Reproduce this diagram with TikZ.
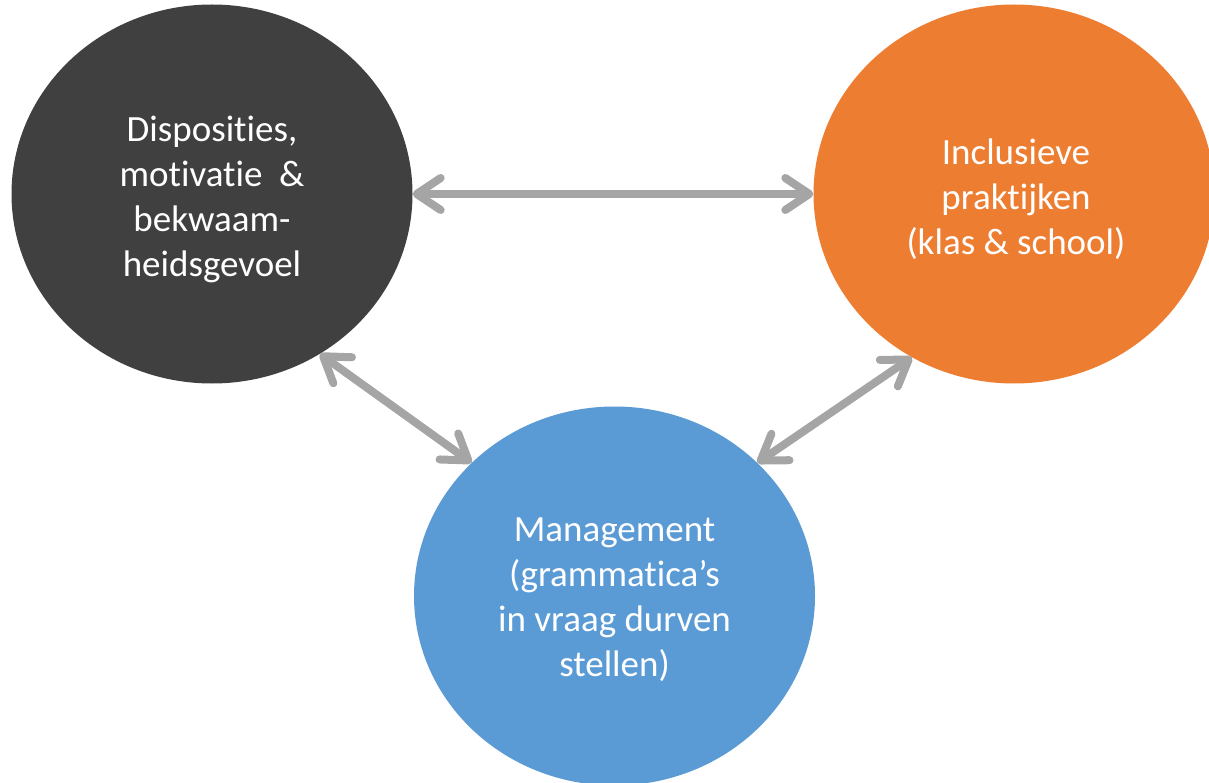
\documentclass[tikz,border=0pt]{standalone}
\usepackage{fontspec}
\setmainfont{Carlito}[Ligatures=NoCommon]
\usetikzlibrary{shapes.geometric,arrows.meta}
\definecolor{darkc}{HTML}{404040}
\definecolor{orangec}{HTML}{ED7D31}
\definecolor{bluec}{HTML}{5B9BD5}
\definecolor{arrowc}{HTML}{A5A5A5}
\begin{document}
\begin{tikzpicture}[x=1pt,y=-1pt,
  bubble/.style={ellipse, minimum width=401pt, minimum height=379pt, inner sep=0pt},
  txt/.style={text=white, align=center, font=\fontsize{37}{45}\selectfont, yshift=-5pt, inner sep=0pt},
  link/.style={draw=arrowc, line width=8pt, line cap=round,
    {Straight Barb[length=24pt,width=32pt,line cap=round,line join=round]}-{Straight Barb[length=24pt,width=32pt,line cap=round,line join=round]}}]
\useasboundingbox (0,0) rectangle (1209,783);
\node[bubble, fill=darkc, label={[txt]center:{Disposities,\\motivatie\ \ \&\\bekwaam-\\heidsgevoel}}] (disp) at (212,194) {};
\node[bubble, fill=orangec, label={[txt,xshift=2pt]center:{Inclusieve\\praktijken\\(klas \& school)}}] (incl) at (1014,194) {};
\node[bubble, fill=bluec, label={[txt,yshift=1pt]center:{Management\\(grammatica’s\\in vraag durven\\stellen)}}] (man) at (614.5,596) {};
\draw[link] (disp.east) -- (incl.west);
\draw[link] (disp.-56) -- (man.137);
\draw[link] (incl.-122) -- (man.43);
\end{tikzpicture}
\end{document}
